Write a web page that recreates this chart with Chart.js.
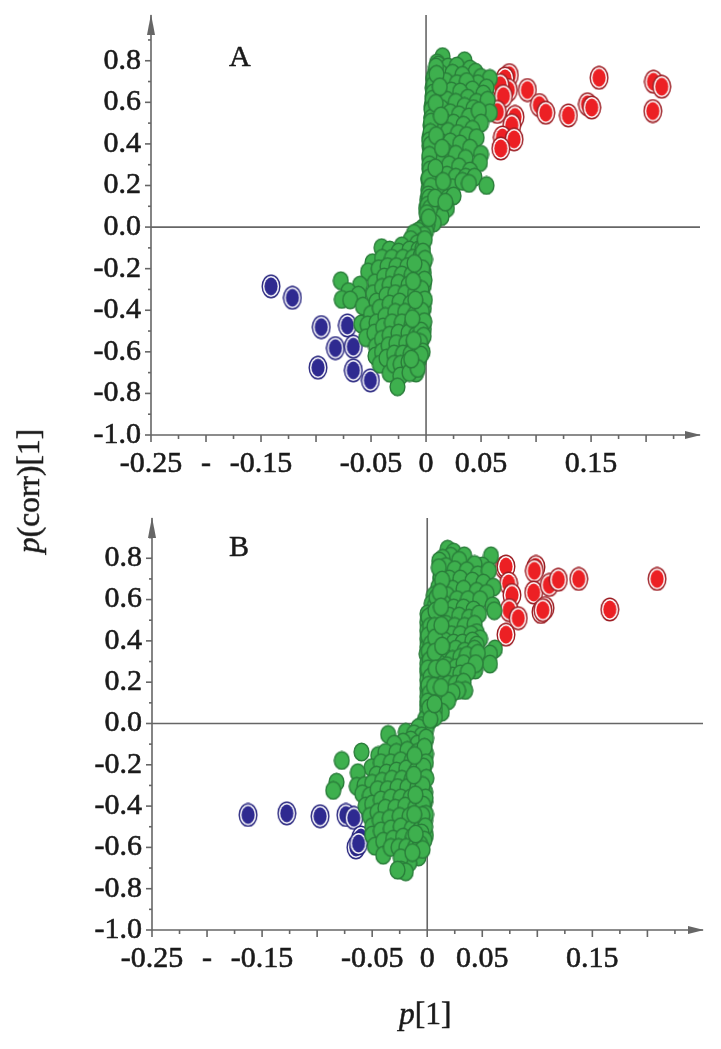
<!DOCTYPE html>
<html>
<head>
<meta charset="utf-8">
<script src="https://cdn.jsdelivr.net/npm/chart.js@4/dist/chart.umd.min.js"></script>
<style>
html, body { margin: 0; padding: 0; background: #fff; }
#page { position: relative; width: 721px; height: 1049px; overflow: hidden; font-family: "Liberation Serif", serif; color: #1a1a1a; }
canvas { position: absolute; left: 0; }
.txt { position: absolute; white-space: nowrap; font-size: 31.5px; -webkit-text-stroke: 0.5px #1a1a1a; }
</style>
</head>
<body>
<div id="page">
  <canvas id="chartA" width="721" height="510" style="top:-20px"></canvas>
  <canvas id="chartB" width="721" height="559" style="top:490px"></canvas>
  <span class="txt" style="left:229px;top:39px;font-size:30px">A</span>
  <span class="txt" style="left:229px;top:529px;font-size:30px">B</span>
  <span class="txt" id="yTitle" style="left:29px;top:491px;transform:translate(-50%,-50%) rotate(-90deg)"><i>p</i>(corr)[1]</span>
  <span class="txt" style="left:399px;top:996px"><i>p</i>[1]</span>
</div>
<script>
// tick values and labels
const xTickValues = [-0.25, -0.225, -0.2, -0.175, -0.15, -0.125, -0.1, -0.075, -0.05, -0.025, 0, 0.025, 0.05, 0.075, 0.1, 0.125, 0.15, 0.175, 0.2, 0.225];
const xMajorValues = [-0.25, -0.2, -0.15, -0.1, -0.05, 0, 0.05, 0.1, 0.15, 0.2];
const xTickLabels = { '-0.250': '-0.25', '-0.200': '-', '-0.150': '-0.15', '-0.050': '-0.05', '0.000': '0', '0.050': '0.05', '0.150': '0.15' };
const yTickValues = [-1, -0.9, -0.8, -0.7, -0.6, -0.5, -0.4, -0.3, -0.2, -0.1, 0, 0.1, 0.2, 0.3, 0.4, 0.5, 0.6, 0.7, 0.8, 0.9];
const yLabelValues = [-1, -0.8, -0.6, -0.4, -0.2, 0, 0.2, 0.4, 0.6, 0.8];

// panel A [p[1], p(corr)[1]]
const redA = [[.0757,.731],[.0718,.715],[.0748,.659],[.0673,.683],[.0703,.63],[.0648,.554],[.0921,.659],[.103,.587],[.1088,.55],[.1294,.537],[.1467,.591],[.1506,.575],[.1573,.718],[.2067,.699],[.2142,.675],[.2061,.558],[.0809,.53],[.0779,.49],[.0694,.431],[.08,.422],[.0679,.378]];
const blueA = [[-.1409,-.285],[-.1215,-.34],[-.0952,-.481],[-.0715,-.473],[-.0824,-.582],[-.0661,-.575],[-.0982,-.676],[-.0661,-.689],[-.0506,-.737]];
const greenA = [
 [.015,.82],[.035,.80],[.01,.79],[.011,.78],[.02,.77],[.028,.775],[.04,.76],[.045,.745],[.05,.72],[.058,.715],[.008,.74],[.013,.74],[.024,.74],[.033,.73],[.047,.69],[.055,.67],
 [.007,.71],[.009,.7],[.018,.7],[.028,.69],[.037,.7],[.042,.66],[.052,.64],[.006,.67],[.007,.65],[.014,.66],[.023,.655],[.031,.65],[.038,.62],[.046,.6],[.056,.61],
 [.006,.63],[.006,.6],[.011,.62],[.019,.61],[.027,.6],[.035,.58],[.043,.57],[.058,.55],[.005,.58],[.006,.56],[.014,.57],[.022,.55],[.03,.54],[.039,.53],[.048,.56],[.05,.5],
 [.005,.53],[.008,.52],[.016,.51],[.025,.5],[.034,.49],[.042,.47],[.004,.49],[.005,.48],[.012,.46],[.02,.46],[.029,.45],[.037,.44],[.046,.43],
 [.003,.43],[.006,.42],[.013,.41],[.022,.41],[.031,.4],[.04,.38],[.003,.39],[.004,.37],[.01,.36],[.018,.36],[.027,.35],[.036,.33],[.05,.35],[.049,.31],
 [.003,.33],[.005,.32],[.012,.31],[.021,.3],[.03,.29],[.04,.27],[.003,.28],[.004,.26],[.011,.25],[.019,.25],[.027,.24],[.036,.24],[.044,.24],[.055,.2],
 [.002,.23],[.003,.21],[.009,.21],[.017,.2],[.024,.19],[.033,.22],[.039,.21],[.002,.18],[.005,.17],[.012,.16],[.02,.14],[.025,.15],[.001,.13],[.006,.12],[.012,.11],[.019,.09],
 [.0,.09],[.004,.07],[.009,.06],[.014,.05],[.001,.05],[.004,.03],[.007,.02],[.001,.01],[-.002,.0],[-.004,-.01],[.0,-.02],[-.007,-.02],[-.002,-.04],
 [-.011,-.03],[-.004,-.07],[-.014,-.06],[-.008,-.08],[-.0404,-.099],[-.033,-.11],[-.022,-.09],[-.025,-.12],[-.015,-.11],[-.007,-.11],[-.003,-.1],
 [-.0487,-.171],[-.04,-.15],[-.031,-.15],[-.021,-.15],[-.012,-.15],[-.005,-.14],[-.002,-.17],[-.0527,-.215],[-.043,-.2],[-.035,-.19],[-.027,-.19],[-.017,-.19],[-.009,-.19],
 [-.0775,-.258],[-.0465,-.268],[-.038,-.24],[-.03,-.23],[-.022,-.23],[-.013,-.23],[-.006,-.24],[-.002,-.22],[-.06,-.279],[-.0706,-.31],[-.0615,-.327],[-.0766,-.348],[-.069,-.35],
 [-.0574,-.38],[-.048,-.32],[-.04,-.29],[-.033,-.28],[-.025,-.27],[-.016,-.28],[-.008,-.27],[-.002,-.28],[-.045,-.36],[-.036,-.33],[-.028,-.32],[-.019,-.32],[-.01,-.32],[-.003,-.33],
 [-.059,-.466],[-.05,-.42],[-.042,-.39],[-.033,-.37],[-.024,-.36],[-.014,-.37],[-.006,-.37],[-.002,-.39],[-.053,-.47],[-.045,-.46],[-.037,-.43],[-.028,-.41],[-.019,-.41],[-.01,-.42],[-.003,-.44],
 [-.0545,-.532],[-.047,-.51],[-.039,-.48],[-.031,-.46],[-.022,-.46],[-.013,-.47],[-.006,-.47],[-.002,-.49],[-.0455,-.575],[-.04,-.54],[-.033,-.52],[-.025,-.51],[-.016,-.51],[-.009,-.52],[-.004,-.54],
 [-.046,-.62],[-.04,-.6],[-.034,-.57],[-.027,-.56],[-.018,-.56],[-.011,-.57],[-.005,-.58],[-.042,-.66],[-.036,-.63],[-.029,-.61],[-.021,-.61],[-.014,-.61],[-.008,-.62],
 [-.033,-.703],[-.029,-.66],[-.023,-.66],[-.016,-.65],[-.009,-.66],[-.0234,-.716],[-.0091,-.702],[-.015,-.7],[-.026,-.768],
 // dense strip along the vertical axis
 [.009,.77],[.007,.72],[.007,.685],[.0065,.645],[.006,.615],[.005,.565],[.0052,.525],[.0045,.505],[.004,.455],[.003,.415],[.0042,.395],[.003,.345],[.003,.3],[.0036,.275],[.0025,.235],[.0044,.195],[.002,.155],[.0029,.14],[.0016,.105],[.0037,.09],[.0008,.065],[.0024,.045],
 [.0095,.735],[.0125,.675],[.0088,.595],[.0135,.535],[.0092,.44],[.0145,.38],[.0085,.285],[.0155,.22],[.0082,.14],[.0175,.12],
 [-.0012,-.06],[-.0028,-.12],[-.0009,-.155],[-.0035,-.2],[-.0014,-.255],[-.0042,-.3],[-.0011,-.35],[-.0038,-.405],[-.0016,-.455],[-.0046,-.5],[-.0022,-.525],[-.0054,-.555],[-.0031,-.6],[-.0066,-.64],[-.0048,-.615],[-.0075,-.68],
 [-.0105,-.175],[-.0118,-.26],[-.0098,-.35],[-.0125,-.44],[-.0112,-.545],[-.0135,-.635]
];

// panel B
const redB = [[.07,.755],[.0715,.76],[.0739,.678],[.077,.622],[.0745,.549],[.0827,.51],[.0715,.43],[.0988,.758],[.0973,.739],[.0967,.634],[.1109,.671],[.1191,.696],[.1376,.70],[.1658,.552],[.2088,.70],[.107,.559],[.1033,.54],[.105,.549]];
const blueB = [[-.1627,-.443],[-.1276,-.435],[-.0973,-.449],[-.0739,-.443],[-.0667,-.457],[-.0603,-.552],[-.0648,-.60],[-.0624,-.581]];
const greenB = [
 [.0185,.844],[.024,.83],[.0579,.812],[.0214,.81],[.0336,.812],[.014,.8],[.029,.79],[.0109,.787],[.05,.763],[.043,.77],[.017,.76],[.025,.745],[.036,.74],[.046,.72],[.056,.74],
 [.012,.70],[.012,.71],[.02,.7],[.03,.7],[.041,.69],[.051,.68],[.06,.66],[.01,.66],[.014,.66],[.023,.65],[.033,.65],[.045,.64],[.054,.63],[.006,.62],[.01,.61],[.018,.62],[.027,.6],[.037,.6],[.048,.6],
 [.004,.58],[.007,.57],[.015,.58],[.024,.56],[.033,.56],[.042,.55],[.0594,.57],[.0609,.546],[.0003,.531],[.005,.53],[.012,.54],[.02,.52],[.029,.52],[.038,.51],[.047,.53],
 [.0,.49],[.004,.49],[.01,.5],[.017,.48],[.025,.47],[.034,.47],[.043,.48],[.045,.44],[.0,.45],[.003,.44],[.009,.45],[.015,.44],[.022,.43],[.03,.43],[.04,.43],[.048,.41],
 [.0,.41],[.004,.4],[.009,.4],[.016,.4],[.024,.39],[.032,.39],[.041,.4],[.045,.38],[.0615,.361],[.0,.37],[.005,.36],[.01,.36],[.018,.35],[.026,.36],[.034,.35],[.043,.36],[.057,.337],
 [-.0006,.337],[.004,.32],[.009,.33],[.016,.32],[.023,.31],[.03,.32],[.036,.33],[.046,.34],[.057,.288],[.0,.29],[.005,.28],[.011,.29],[.018,.28],[.026,.27],[.033,.29],[.0436,.259],[.044,.29],
 [.0,.25],[.004,.24],[.01,.25],[.016,.24],[.023,.23],[.03,.24],[.037,.25],[.0,.21],[.005,.2],[.011,.2],[.019,.19],[.026,.19],[.033,.2],[.0345,.16],[.028,.16],
 [.0,.17],[.004,.16],[.009,.15],[.016,.14],[.023,.15],[.0,.13],[.004,.12],[.008,.11],[.014,.1],[.019,.11],[.0,.09],[.004,.08],[.0133,.055],[.007,.07],[.0,.065],[.003,.05],[.007,.03],
 [.0,.03],[.002,.01],[-.002,.02],[-.005,-.01],[-.001,-.03],[-.008,-.02],[-.0195,-.042],[-.0355,-.053],[-.012,-.05],[-.005,-.06],[-.015,-.08],[-.002,-.09],[-.009,-.1],[-.022,-.09],[-.03,-.1],
 [-.0445,-.155],[-.0597,-.138],[-.0776,-.179],[-.038,-.14],[-.028,-.14],[-.018,-.13],[-.009,-.14],[-.001,-.147],[-.0506,-.214],[-.042,-.19],[-.033,-.19],[-.024,-.18],[-.014,-.18],[-.005,-.18],
 [-.063,-.238],[-.0824,-.284],[-.0854,-.324],[-.064,-.304],[-.046,-.25],[-.037,-.24],[-.028,-.23],[-.019,-.22],[-.01,-.23],[-.003,-.23],[-.057,-.3],[-.05,-.29],[-.041,-.28],[-.032,-.27],[-.023,-.27],[-.014,-.27],[-.006,-.27],
 [-.059,-.34],[-.052,-.35],[-.045,-.32],[-.036,-.32],[-.027,-.31],[-.018,-.31],[-.009,-.31],[-.0018,-.332],[-.056,-.4],[-.05,-.39],[-.042,-.37],[-.033,-.36],[-.024,-.36],[-.015,-.36],[-.006,-.36],[-.002,-.38],
 [-.052,-.45],[-.045,-.43],[-.038,-.41],[-.029,-.41],[-.02,-.4],[-.011,-.41],[-.003,-.42],[-.05,-.5],[-.043,-.47],[-.034,-.46],[-.025,-.45],[-.016,-.45],[-.008,-.46],[-.002,-.47],
 [-.05,-.54],[-.042,-.52],[-.033,-.51],[-.024,-.5],[-.014,-.51],[-.006,-.51],[-.0012,-.541],[-.0476,-.594],[-.04,-.57],[-.031,-.56],[-.022,-.55],[-.013,-.55],[-.005,-.57],
 [-.04,-.638],[-.033,-.6],[-.026,-.6],[-.019,-.6],[-.011,-.6],[-.0079,-.646],[-.0164,-.675],[-.024,-.65],[-.0238,-.71],[-.0195,-.718],[-.027,-.71],
 // dense strip along the vertical axis
 [.0012,.515],[.0026,.47],[.0009,.425],[.0034,.385],[.0014,.35],[.0022,.305],[.0007,.265],[.0031,.225],[.0011,.185],[.0024,.145],[.0006,.105],[.0018,.075],[.0028,.02],
 [.0085,.61],[.0075,.545],[.0065,.47],[.0072,.415],[.0068,.345],[.0078,.265],[.0062,.18],[.0066,.095],
 [.0105,.755],[.0135,.695],[.0115,.635],[.0125,.565],[.0128,.475],[.0135,.375],[.0145,.27],[.0125,.175],
 [-.001,-.07],[-.0025,-.115],[-.0012,-.19],[-.0035,-.21],[-.0008,-.265],[-.0042,-.3],[-.0015,-.36],[-.0038,-.395],[-.0011,-.44],[-.0045,-.445],[-.0018,-.5],[-.0052,-.53],[-.0026,-.565],[-.0065,-.585],[-.0042,-.61],
 [-.0115,-.155],[-.0122,-.25],[-.0108,-.345],[-.0118,-.44],[-.0105,-.535],[-.0135,-.625]
];

function marker(fill, edge, ring) {
    const c = document.createElement('canvas');
    const w = ring ? 20 : 17;
    const h = ring ? 25 : 20;
    c.width = w; c.height = h;
    const g = c.getContext('2d');
    const ell = (rx, ry) => { g.beginPath(); g.ellipse(w / 2, h / 2, rx, ry, 0, 0, Math.PI * 2); };
    if (ring) {
        ell(8.8, 11.3); g.fillStyle = '#fff'; g.fill(); g.lineWidth = 1.4; g.strokeStyle = edge; g.stroke();
        ell(6.6, 8.9); g.fillStyle = fill; g.fill();
    } else {
        ell(7.4, 8.8); g.fillStyle = fill; g.fill(); g.lineWidth = 1.4; g.strokeStyle = edge; g.stroke();
    }
    return c;
}
const greenDot = marker('#3eb04e', '#2a7d3a', false);
const redDot = marker('#ec2024', '#9c1c22', true);
const blueDot = marker('#2e2a90', '#26247e', true);

const axesPlugin = {
    id: 'axesPlugin',
    beforeDatasetsDraw(chart) {
        const g = chart.ctx, a = chart.chartArea, sx = chart.scales.x, sy = chart.scales.y;
        g.save();
        g.strokeStyle = '#666'; g.fillStyle = '#666'; g.lineWidth = 1.6;
        const line = (x1, y1, x2, y2) => { g.beginPath(); g.moveTo(x1, y1); g.lineTo(x2, y2); g.stroke(); };
        const x0 = sx.getPixelForValue(0), y0 = sy.getPixelForValue(0);
        line(x0, a.top, x0, a.bottom);
        line(a.left, y0, a.right, y0);
        line(a.left, a.bottom, a.right, a.bottom);
        line(a.left, a.top, a.left, a.bottom);
        xTickValues.forEach(v => {
            const p = sx.getPixelForValue(v);
            line(p, a.bottom, p, a.bottom + (xMajorValues.includes(v) ? 7 : 4));
        });
        yTickValues.forEach(v => {
            const p = sy.getPixelForValue(v);
            line(a.left, p, a.left - (yLabelValues.includes(v) ? 6 : 3), p);
        });
        // arrow heads
        g.beginPath(); g.moveTo(a.left, a.top - 1); g.lineTo(a.left - 4, a.top + 20); g.lineTo(a.left + 4, a.top + 20); g.fill();
        g.beginPath(); g.moveTo(a.right + 1, a.bottom); g.lineTo(a.right - 15, a.bottom - 4); g.lineTo(a.right - 15, a.bottom + 4); g.fill();
        g.restore();
    }
};

function drawPanel(id, green, red, blue, pad, yMax, xMax, bottomH) {
    const pts = list => list.map(p => ({ x: p[0], y: p[1] }));
    return new Chart(document.getElementById(id), {
        type: 'scatter',
        data: {
            datasets: [
                { label: 'green', data: pts(green), pointStyle: greenDot, pointRadius: 8, order: 1 },
                { label: 'red', data: pts(red), pointStyle: redDot, pointRadius: 10, order: 2 },
                { label: 'blue', data: pts(blue), pointStyle: blueDot, pointRadius: 10, order: 3 }
            ]
        },
        options: {
            responsive: false,
            animation: false,
            clip: false,
            layout: { padding: pad },
            plugins: { legend: { display: false }, tooltip: { enabled: false } },
            scales: {
                x: {
                    type: 'linear', min: -0.25, max: xMax,
                    afterBuildTicks: s => { s.ticks = xTickValues.map(v => ({ value: v })); },
                    afterFit: s => { s.height = bottomH; },
                    grid: { display: false, drawTicks: false },
                    border: { display: false },
                    ticks: {
                        autoSkip: false, maxRotation: 0, padding: 11, color: '#1a1a1a',
                        font: { family: '"Liberation Serif", serif', size: 30 },
                        textStrokeColor: '#1a1a1a', textStrokeWidth: 0.6,
                        callback: v => xTickLabels[v.toFixed(3)] || ''
                    }
                },
                y: {
                    type: 'linear', min: -1, max: yMax,
                    afterBuildTicks: s => { s.ticks = yTickValues.map(v => ({ value: v })); },
                    afterFit: s => { s.width = 151; },
                    grid: { display: false, drawTicks: false },
                    border: { display: false },
                    ticks: {
                        autoSkip: false, padding: 10, color: '#1a1a1a',
                        font: { family: '"Liberation Serif", serif', size: 30 },
                        textStrokeColor: '#1a1a1a', textStrokeWidth: 0.6,
                        callback: v => yLabelValues.some(l => Math.abs(l - v) < 1e-6) ? v.toFixed(1) : ''
                    }
                }
            }
        },
        plugins: [axesPlugin]
    });
}

drawPanel('chartA', greenA, redA, blueA, { left: 0, right: 21, top: 35, bottom: 0 }, 1.02, 0.249, 55);
drawPanel('chartB', greenB, redB, blueB, { left: 1, right: 18, top: 27, bottom: 0 }, 0.995, 0.2505, 119);
</script>
</body>
</html>
